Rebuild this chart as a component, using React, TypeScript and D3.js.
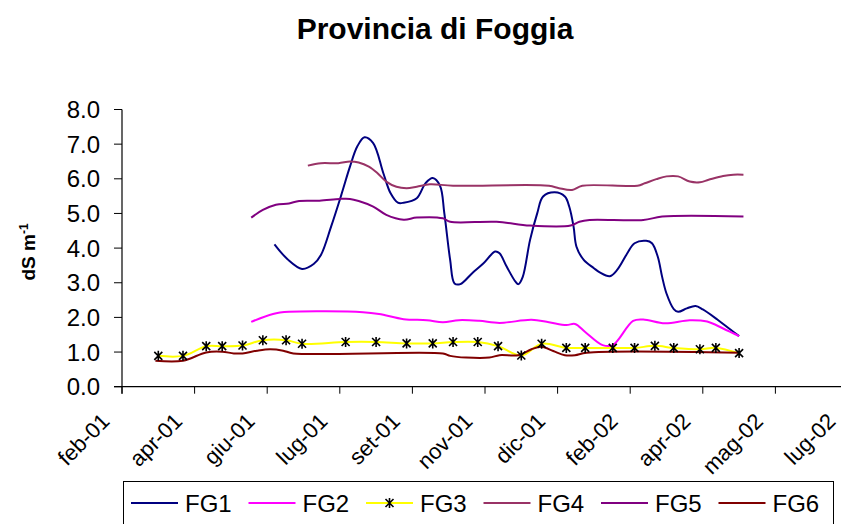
import { useEffect, useRef } from "react";
import * as d3 from "d3";

const MONTHS = ["gen", "feb", "mar", "apr", "mag", "giu", "lug", "ago", "set", "ott", "nov", "dic"];
const Y_TICKS = [0, 1, 2, 3, 4, 5, 6, 7, 8];
const AXIS_START = "2001-02-26";
const TICK_STEP_DAYS = 50;
const TICK_COUNT = 11;

const fg1: [string, number][] = [
  ["2001-06-11", 4.11], ["2001-06-20", 3.68], ["2001-06-30", 3.4], ["2001-07-08", 3.54],
  ["2001-07-13", 3.8], ["2001-07-20", 4.62], ["2001-07-27", 5.53], ["2001-08-02", 6.35],
  ["2001-08-07", 6.93], ["2001-08-12", 7.2], ["2001-08-18", 7.03], ["2001-08-25", 6.16],
  ["2001-08-30", 5.58], ["2001-09-04", 5.31], ["2001-09-08", 5.31], ["2001-09-17", 5.44],
  ["2001-09-23", 5.87], ["2001-09-28", 6.02], ["2001-10-03", 5.8], ["2001-10-06", 5.0],
  ["2001-10-10", 3.66], ["2001-10-13", 2.98], ["2001-10-17", 2.96], ["2001-10-25", 3.27],
  ["2001-11-02", 3.56], ["2001-11-10", 3.9], ["2001-11-13", 3.85], ["2001-11-18", 3.46],
  ["2001-11-24", 3.03], ["2001-11-26", 2.96], ["2001-11-29", 3.17], ["2001-12-04", 4.23],
  ["2001-12-09", 5.01], ["2001-12-13", 5.49], ["2001-12-21", 5.61], ["2001-12-28", 5.49],
  ["2001-12-31", 5.2], ["2002-01-03", 4.62], ["2002-01-05", 4.04], ["2002-01-10", 3.66],
  ["2002-01-17", 3.42], ["2002-01-21", 3.3], ["2002-01-28", 3.19], ["2002-02-02", 3.37],
  ["2002-02-09", 3.85], ["2002-02-14", 4.14], ["2002-02-22", 4.21], ["2002-02-26", 4.14],
  ["2002-03-02", 3.75], ["2002-03-05", 3.17], ["2002-03-08", 2.69], ["2002-03-13", 2.24],
  ["2002-03-16", 2.16], ["2002-03-22", 2.26], ["2002-03-28", 2.33], ["2002-04-02", 2.23],
  ["2002-04-12", 1.94], ["2002-04-21", 1.65], ["2002-04-27", 1.46],
];

const fg2: [string, number][] = [
  ["2001-05-26", 1.87], ["2001-06-10", 2.1], ["2001-06-21", 2.16], ["2001-08-11", 2.15],
  ["2001-08-22", 2.1], ["2001-09-08", 1.95], ["2001-09-24", 1.92], ["2001-10-05", 1.86],
  ["2001-10-16", 1.92], ["2001-10-30", 1.9], ["2001-11-13", 1.84], ["2001-12-05", 1.93],
  ["2001-12-17", 1.86], ["2001-12-29", 1.78], ["2002-01-04", 1.81], ["2002-01-11", 1.58],
  ["2002-01-23", 1.2], ["2002-01-30", 1.2], ["2002-02-13", 1.9], ["2002-02-20", 1.94],
  ["2002-03-07", 1.83], ["2002-03-24", 1.92], ["2002-04-05", 1.88], ["2002-04-16", 1.68],
  ["2002-04-27", 1.46],
];

const fg3: [string, number][] = [
  ["2001-03-23", 0.89], ["2001-04-09", 0.89], ["2001-04-25", 1.17], ["2001-05-06", 1.17],
  ["2001-05-20", 1.19], ["2001-06-03", 1.34], ["2001-06-19", 1.34], ["2001-06-30", 1.24],
  ["2001-07-30", 1.29], ["2001-08-20", 1.29], ["2001-09-10", 1.25], ["2001-09-28", 1.25],
  ["2001-10-12", 1.29], ["2001-10-29", 1.29], ["2001-11-12", 1.17], ["2001-11-28", 0.9],
  ["2001-12-12", 1.24], ["2001-12-29", 1.12], ["2002-01-11", 1.12], ["2002-01-30", 1.12],
  ["2002-02-14", 1.12], ["2002-02-28", 1.18], ["2002-03-13", 1.12], ["2002-03-31", 1.08],
  ["2002-04-11", 1.12], ["2002-04-27", 0.97],
];

const fg4: [string, number][] = [
  ["2001-07-04", 6.38], ["2001-07-13", 6.45], ["2001-07-25", 6.45], ["2001-08-02", 6.5],
  ["2001-08-08", 6.47], ["2001-08-15", 6.35], ["2001-08-21", 6.16], ["2001-08-27", 5.92],
  ["2001-09-03", 5.77], ["2001-09-10", 5.73], ["2001-09-17", 5.77], ["2001-09-26", 5.84],
  ["2001-10-12", 5.8], ["2001-12-17", 5.8], ["2001-12-24", 5.73], ["2002-01-02", 5.68],
  ["2002-01-09", 5.8], ["2002-02-16", 5.8], ["2002-02-21", 5.87], ["2002-03-01", 5.99],
  ["2002-03-08", 6.07], ["2002-03-16", 6.07], ["2002-03-24", 5.92], ["2002-03-31", 5.9],
  ["2002-04-06", 5.97], ["2002-04-16", 6.08], ["2002-04-23", 6.12], ["2002-04-30", 6.12],
];

const fg5: [string, number][] = [
  ["2001-05-26", 4.88], ["2001-06-03", 5.1], ["2001-06-12", 5.25], ["2001-06-21", 5.29],
  ["2001-06-28", 5.36], ["2001-07-12", 5.37], ["2001-07-26", 5.42], ["2001-08-02", 5.42],
  ["2001-08-08", 5.36], ["2001-08-18", 5.2], ["2001-08-27", 4.96], ["2001-09-08", 4.82],
  ["2001-09-17", 4.88], ["2001-10-05", 4.86], ["2001-10-10", 4.76], ["2001-11-11", 4.76],
  ["2001-12-04", 4.65], ["2002-01-01", 4.65], ["2002-01-07", 4.76], ["2002-01-14", 4.81],
  ["2002-02-20", 4.81], ["2002-03-05", 4.91], ["2002-04-30", 4.91],
];

const fg6: [string, number][] = [
  ["2001-03-21", 0.75], ["2001-04-09", 0.75], ["2001-04-25", 0.99], ["2001-05-06", 1.01],
  ["2001-05-14", 0.96], ["2001-05-20", 0.96], ["2001-05-30", 1.04], ["2001-06-08", 1.08],
  ["2001-06-17", 1.04], ["2001-06-24", 0.96], ["2001-10-05", 0.96], ["2001-10-10", 0.89],
  ["2001-10-21", 0.84], ["2001-11-06", 0.84], ["2001-11-13", 0.91], ["2001-11-26", 0.91],
  ["2001-12-05", 1.08], ["2001-12-12", 1.15], ["2001-12-20", 1.03], ["2001-12-28", 0.91],
  ["2002-01-04", 0.91], ["2002-01-12", 0.98], ["2002-04-27", 0.98],
];

const SERIES = [
  { name: "FG1", color: "#000080", data: fg1, marker: false },
  { name: "FG2", color: "#FF00FF", data: fg2, marker: false },
  { name: "FG3", color: "#FFFF00", data: fg3, marker: true },
  { name: "FG4", color: "#993366", data: fg4, marker: false },
  { name: "FG5", color: "#800080", data: fg5, marker: false },
  { name: "FG6", color: "#800000", data: fg6, marker: false },
];

const FONT = "'Liberation Sans', Arial, sans-serif";
const STAR = "M-4,-4L4,4M-4,4L4,-4M0,-5L0,5";

const App = () => {
  const svgRef = useRef<SVGSVGElement | null>(null);

  useEffect(() => {
    const svg = d3.select(svgRef.current);
    svg.selectAll("*").remove();

    const width = 841;
    const height = 524;
    const plot = { left: 122, right: 848, top: 109.5, bottom: 386.7 };

    const parse = d3.timeParse("%Y-%m-%d");
    const start = parse(AXIS_START) as Date;
    const tickDates = d3.range(TICK_COUNT).map((i) => d3.timeDay.offset(start, i * TICK_STEP_DAYS));

    const x = d3
      .scaleTime()
      .domain([start, tickDates[tickDates.length - 1]])
      .range([plot.left, plot.right]);
    const y = d3.scaleLinear().domain([0, 8]).range([plot.bottom, plot.top]);

    svg.attr("width", width).attr("height", height).style("font-family", FONT);
    svg.append("rect").attr("width", width).attr("height", height).attr("fill", "#fff");

    // title
    svg
      .append("text")
      .attr("x", 435)
      .attr("y", 39)
      .attr("text-anchor", "middle")
      .style("font-size", "30px")
      .style("font-weight", "bold")
      .text("Provincia di Foggia");

    // y axis
    const yAxis = svg.append("g");
    yAxis
      .append("line")
      .attr("x1", plot.left)
      .attr("x2", plot.left)
      .attr("y1", plot.top)
      .attr("y2", plot.bottom + 7)
      .attr("stroke", "#000")
      .attr("stroke-width", 1.2);
    yAxis
      .selectAll("line.tick")
      .data(Y_TICKS)
      .enter()
      .append("line")
      .attr("class", "tick")
      .attr("x1", plot.left - 8)
      .attr("x2", plot.left)
      .attr("y1", (d) => y(d))
      .attr("y2", (d) => y(d))
      .attr("stroke", "#000")
      .attr("stroke-width", 1);
    yAxis
      .selectAll("text")
      .data(Y_TICKS)
      .enter()
      .append("text")
      .attr("x", plot.left - 22)
      .attr("y", (d) => y(d))
      .attr("dy", "0.36em")
      .attr("text-anchor", "end")
      .style("font-size", "24px")
      .text((d) => d3.format(".1f")(d));

    const yTitle = svg
      .append("text")
      .attr("transform", "translate(35,252) rotate(-90)")
      .attr("text-anchor", "middle")
      .style("font-size", "19px")
      .style("font-weight", "bold");
    yTitle.append("tspan").text("dS m");
    yTitle.append("tspan").attr("dy", "-0.55em").style("font-size", "12px").text("-1");

    // x axis
    const xAxis = svg.append("g");
    xAxis
      .append("line")
      .attr("x1", plot.left - 8)
      .attr("x2", width)
      .attr("y1", plot.bottom)
      .attr("y2", plot.bottom)
      .attr("stroke", "#000")
      .attr("stroke-width", 1.2);
    xAxis
      .selectAll("line.tick")
      .data(tickDates)
      .enter()
      .append("line")
      .attr("class", "tick")
      .attr("x1", (d) => x(d))
      .attr("x2", (d) => x(d))
      .attr("y1", plot.bottom)
      .attr("y2", plot.bottom + 7)
      .attr("stroke", "#000");
    xAxis
      .selectAll("text")
      .data(tickDates)
      .enter()
      .append("text")
      .attr("transform", (d) => `translate(${x(d) - 11},${plot.bottom + 36}) rotate(-45)`)
      .attr("text-anchor", "end")
      .style("font-size", "22px")
      .text((d) => `${MONTHS[d.getMonth()]}-${d3.format("02d")(d.getFullYear() % 100)}`);

    // series
    const line = d3
      .line<[string, number]>()
      .x((d) => x(parse(d[0]) as Date))
      .y((d) => y(d[1]))
      .curve(d3.curveCatmullRom.alpha(0.5));

    SERIES.forEach((s) => {
      svg
        .append("path")
        .datum(s.data)
        .attr("d", line)
        .attr("fill", "none")
        .attr("stroke", s.color)
        .attr("stroke-width", 2);
    });

    SERIES.filter((s) => s.marker).forEach((s) => {
      svg
        .selectAll(`path.marker-${s.name}`)
        .data(s.data)
        .enter()
        .append("path")
        .attr("class", `marker-${s.name}`)
        .attr("transform", (d) => `translate(${x(parse(d[0]) as Date)},${y(d[1])})`)
        .attr("d", STAR)
        .attr("fill", "none")
        .attr("stroke", "#000")
        .attr("stroke-width", 1.6);
    });

    // legend
    const legend = svg.append("g");
    legend
      .append("rect")
      .attr("x", 123.5)
      .attr("y", 481.5)
      .attr("width", 710)
      .attr("height", 60)
      .attr("fill", "#fff")
      .attr("stroke", "#000");
    const item = legend
      .selectAll("g.item")
      .data(SERIES)
      .enter()
      .append("g")
      .attr("class", "item")
      .attr("transform", (_d, i) => `translate(${131 + i * 117.5},503)`);
    item
      .append("line")
      .attr("x1", 0)
      .attr("x2", 47)
      .attr("stroke", (d) => d.color)
      .attr("stroke-width", 2);
    item
      .filter((d) => d.marker)
      .append("path")
      .attr("transform", "translate(23.5,0)")
      .attr("d", STAR)
      .attr("fill", "none")
      .attr("stroke", "#000")
      .attr("stroke-width", 1.6);
    item
      .append("text")
      .attr("x", 54)
      .attr("dy", "0.36em")
      .style("font-size", "24px")
      .text((d) => d.name);
  }, []);

  return (
    <div style={{ position: "absolute", left: 0, top: 0 }}>
      <svg ref={svgRef} style={{ display: "block" }} />
    </div>
  );
};

export default App;
